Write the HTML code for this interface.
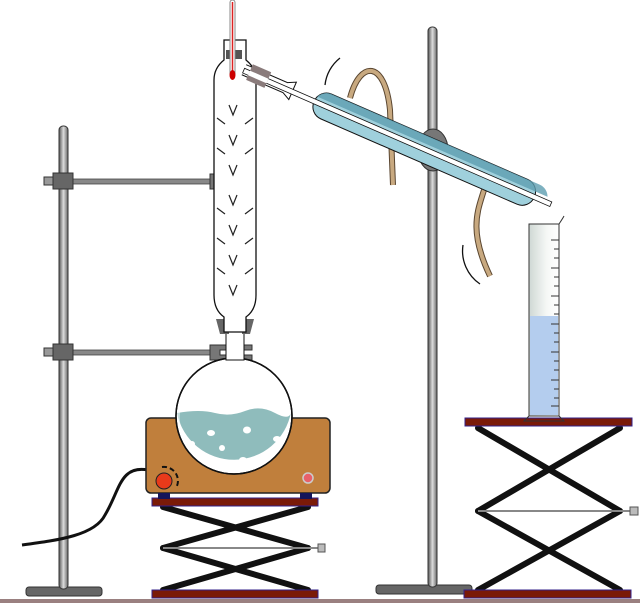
<!DOCTYPE html>
<html><head><style>html,body{margin:0;padding:0;background:#fff}svg{display:block}</style></head>
<body>
<svg width="640" height="604" viewBox="0 0 640 604" xmlns="http://www.w3.org/2000/svg">
<defs>
<linearGradient id="rod" x1="0" x2="1"><stop offset="0" stop-color="#555"/><stop offset="0.5" stop-color="#ddd"/><stop offset="1" stop-color="#666"/></linearGradient>
<linearGradient id="cyl" x1="0" x2="1"><stop offset="0" stop-color="#cfd8d4"/><stop offset="0.6" stop-color="#f6f8f6"/><stop offset="1" stop-color="#fff"/></linearGradient>
</defs>
<rect x="0" y="599" width="640" height="4" fill="#9a8080"/>
<rect x="26" y="587" width="76" height="9" rx="3" fill="#666" stroke="#333"/>
<rect x="59" y="126" width="9" height="463" rx="4" fill="url(#rod)" stroke="#333"/>
<rect x="66" y="179" width="150" height="5" fill="#888" stroke="#444" stroke-width="0.8"/>
<rect x="66" y="350" width="150" height="5" fill="#888" stroke="#444" stroke-width="0.8"/>
<rect x="53" y="173" width="20" height="16" fill="#666" stroke="#333"/>
<rect x="53" y="344" width="20" height="16" fill="#666" stroke="#333"/>
<rect x="44" y="177" width="9" height="8" fill="#999" stroke="#333"/>
<rect x="44" y="348" width="9" height="8" fill="#999" stroke="#333"/>
<path d="M210 174 h42 v5 h-32 v5 h32 v5 h-42 z" fill="#777" stroke="#333"/>
<path d="M210 345 h42 v5 h-32 v5 h32 v5 h-42 z" fill="#777" stroke="#333"/>
<rect x="376" y="585" width="96" height="9" rx="3" fill="#666" stroke="#333"/>
<rect x="428" y="27" width="9" height="560" rx="4" fill="url(#rod)" stroke="#333"/>
<path d="M148 470 C120 465,120 490,105 515 C95 535,60 540,22 545" fill="none" stroke="#111" stroke-width="3"/>
<g stroke="#111" stroke-width="6" stroke-linecap="round">
<line x1="163" y1="507" x2="308" y2="548"/><line x1="308" y1="507" x2="163" y2="548"/>
<line x1="163" y1="548" x2="308" y2="590"/><line x1="308" y1="548" x2="163" y2="590"/>
</g>
<line x1="163" y1="548" x2="320" y2="548" stroke="#888" stroke-width="2"/>
<rect x="318" y="544" width="7" height="8" fill="#bbb" stroke="#555"/>
<rect x="152" y="498" width="166" height="8" fill="#7a1a08" stroke="#33208a"/>
<rect x="152" y="590" width="166" height="8" fill="#7a1a08" stroke="#33208a"/>
<g stroke="#111" stroke-width="6" stroke-linecap="round">
<line x1="478" y1="428" x2="620" y2="511"/><line x1="620" y1="428" x2="478" y2="511"/>
<line x1="478" y1="511" x2="620" y2="590"/><line x1="620" y1="511" x2="478" y2="590"/>
</g>
<line x1="478" y1="511" x2="630" y2="511" stroke="#888" stroke-width="2"/>
<rect x="630" y="507" width="8" height="8" fill="#bbb" stroke="#555"/>
<rect x="465" y="418" width="167" height="8" fill="#7a1a08" stroke="#33208a"/>
<rect x="464" y="590" width="167" height="8" fill="#7a1a08" stroke="#33208a"/>
<rect x="146" y="418" width="184" height="75" rx="5" fill="#c07f3c" stroke="#222" stroke-width="1.5"/>
<rect x="158" y="493" width="12" height="6" fill="#14145a"/><rect x="300" y="493" width="12" height="6" fill="#14145a"/>
<circle cx="164" cy="481" r="8" fill="#e83a1a" stroke="#222"/>
<path d="M162 467 A14 14 0 0 1 176 488" fill="none" stroke="#111" stroke-width="2" stroke-dasharray="5 3"/>
<circle cx="308" cy="478" r="5" fill="#e8606a" stroke="#ccc" stroke-width="1.5"/>
<circle cx="234" cy="416" r="58" fill="#fff" stroke="#111" stroke-width="1.5"/>
<path d="M177 413 Q200 409 215 413 T245 411 T275 413 T291 412 A58 58 0 0 1 177 413 z" fill="#8fbcbc"/>
<path d="M186 390 A50 50 0 0 0 200 458" fill="none" stroke="#fff" stroke-width="3" opacity="0.5"/>
<circle cx="234" cy="416" r="58" fill="none" stroke="#111" stroke-width="1.5"/>
<g fill="#fff"><ellipse cx="211" cy="433" rx="4" ry="3"/><ellipse cx="247" cy="430" rx="4" ry="3.5"/><ellipse cx="192" cy="444" rx="3" ry="3"/><ellipse cx="222" cy="448" rx="3" ry="3"/><ellipse cx="277" cy="439" rx="4" ry="3"/><ellipse cx="243" cy="460" rx="4" ry="3"/></g>
<rect x="226" y="330" width="18" height="30" fill="#fff" stroke="#111"/>
<path d="M216 319 h13 v15 h-9 z M242 319 h12 l-4 15 h-8 z" fill="#666"/>
<path d="M224 40 v20 q-10 8 -10 20 v215 q0 15 10 22 v15 h22 v-15 q10 -7 10 -22 v-215 q0 -12 -10 -20 v-20 z" fill="#fff" stroke="#111" stroke-width="1.3"/>
<g fill="none" stroke="#222" stroke-width="1.2">
<path d="M229 105 l4 10 l4 -10 M229 135 l4 10 l4 -10 M229 165 l4 10 l4 -10 M229 195 l4 10 l4 -10 M229 225 l4 10 l4 -10 M229 255 l4 10 l4 -10 M229 285 l4 10 l4 -10"/>
<path d="M217 118 l8 6 M217 148 l8 6 M217 208 l8 6 M217 238 l8 6 M217 268 l8 6 M253 118 l-8 6 M253 148 l-8 6 M253 208 l-8 6 M253 238 l-8 6 M253 268 l-8 6"/>
</g>
<rect x="226" y="50" width="16" height="9" fill="#555"/>
<rect x="230" y="0" width="5" height="76" rx="2.5" fill="#fff" stroke="#888"/>
<line x1="232.5" y1="2" x2="232.5" y2="72" stroke="#d22" stroke-width="1.5"/>
<ellipse cx="232.5" cy="75" rx="3" ry="5" fill="#c00"/>
<path d="M350 98 C360 60,385 60,390 110 L393 185" fill="none" stroke="#5a4630" stroke-width="6"/>
<path d="M350 98 C360 60,385 60,390 110 L393 185" fill="none" stroke="#c8a980" stroke-width="4"/>
<path d="M484 190 C478 210,468 230,490 276" fill="none" stroke="#5a4630" stroke-width="6"/>
<path d="M484 190 C478 210,468 230,490 276" fill="none" stroke="#c8a980" stroke-width="4"/>
<path d="M340 58 A40 40 0 0 0 325 85" fill="none" stroke="#111" stroke-width="1.3"/>
<path d="M463 245 A40 40 0 0 0 480 284" fill="none" stroke="#111" stroke-width="1.3"/>
<ellipse cx="433" cy="150" rx="15" ry="21" fill="#777" stroke="#333"/>
<g transform="rotate(23.5 243 72)">
<path d="M243 64 h45 l8 -4 v19 l-8 -4 h-45" fill="#fff" stroke="#111"/>
<rect x="320" y="57" width="240" height="27" rx="13" fill="#9fd0dc" stroke="#111"/>
<path d="M333 57 h227 a13 13 0 0 1 12 8 h-251 a13 13 0 0 1 12 -8z" fill="#5e9eb0" opacity="0.8"/>
<rect x="243" y="68" width="335" height="5" fill="#fff" stroke="#111" stroke-width="0.8"/>
<rect x="249" y="61" width="20" height="17" fill="#8a7b7b"/>
<rect x="249" y="68" width="20" height="5" fill="#fff"/>
</g>
<rect x="529" y="224" width="30" height="192" fill="url(#cyl)" stroke="#333"/>
<rect x="530" y="316" width="28" height="99" fill="#b4cdee"/>
<path d="M559 224 q4 -6 5 -8" fill="none" stroke="#333"/>
<path d="M529 416 l-5 5 h40 l-5 -5" fill="none" stroke="#333"/>
<g stroke="#333" stroke-width="1">
<path d="M551 240h8M554 249h5M554 258h5M551 268h8M554 277h5M554 286h5M551 296h8M554 305h5M554 314h5M551 324h8M554 333h5M554 342h5M551 352h8M554 361h5M554 370h5M551 380h8M554 389h5M554 398h5M551 406h8"/>
</g>
</svg>
</body></html>
